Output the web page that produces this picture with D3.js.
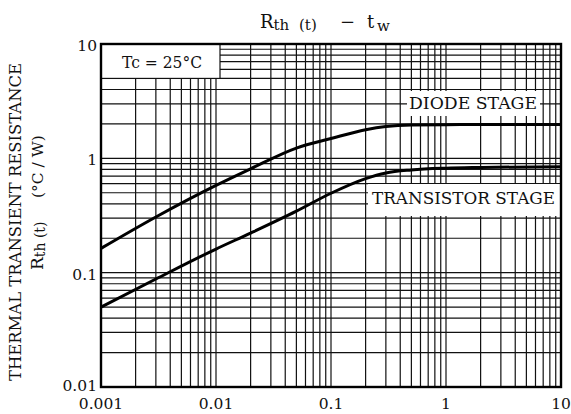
<!DOCTYPE html>
<html>
<head>
<meta charset="utf-8">
<script src="https://cdn.jsdelivr.net/npm/d3@7"></script>
<style>
  html, body { margin: 0; padding: 0; background: #fff; }
  svg { display: block; }
  text { font-family: "DejaVu Serif", "Liberation Serif", serif; fill: #111; }
</style>
</head>
<body>
<svg id="chart" width="571" height="414"></svg>
<script>
// ---- data ----
const xTickValues = [0.001, 0.01, 0.1, 1, 10];
const xTickLabels = ["0.001", "0.01", "0.1", "1", "10"];
const yTickValues = [0.01, 0.1, 1, 10];
const yTickLabels = ["0.01", "0.1", "1", "10"];

const tw = [0.001, 0.003, 0.01, 0.02, 0.05, 0.1, 0.2, 0.3, 0.5, 1, 2, 10];
const diodeStage =      [0.163, 0.307, 0.58, 0.81, 1.23, 1.49, 1.78, 1.90, 1.96, 1.97, 1.98, 1.98];
const transistorStage = [0.050, 0.088, 0.161, 0.222, 0.345, 0.495, 0.665, 0.745, 0.792, 0.821, 0.833, 0.846];

const seriesLabels = ["DIODE STAGE", "TRANSISTOR STAGE"];
const conditionLabel = "Tc = 25°C";

// ---- layout ----
const L = 101, R = 561, T = 44, B = 387;
const svg = d3.select("#chart");
const x = d3.scaleLog().domain([0.001, 10]).range([L, R]);
const y = d3.scaleLog().domain([0.01, 10]).range([B, T]);

// grid
const g = svg.append("g");
g.selectAll("line.vx").data(x.ticks()).join("line")
  .attr("x1", d => x(d)).attr("x2", d => x(d))
  .attr("y1", T).attr("y2", B)
  .attr("stroke", "#111").attr("stroke-width", 1.2);
g.selectAll("line.hy").data(y.ticks()).join("line")
  .attr("y1", d => y(d)).attr("y2", d => y(d))
  .attr("x1", L).attr("x2", R)
  .attr("stroke", "#111").attr("stroke-width", 1.2);

// label boxes (white backgrounds covering grid)
svg.append("rect").attr("x", L).attr("y", T).attr("width", 119).attr("height", y(5) - T)
  .attr("fill", "#fff").attr("stroke", "#111").attr("stroke-width", 1.2);
svg.append("rect").attr("x", 407).attr("y", 91).attr("width", 133).attr("height", 25).attr("fill", "#fff");
svg.append("rect").attr("x", 368).attr("y", 184).attr("width", R - 368).attr("height", 32).attr("fill", "#fff");

// curves
const line = d3.line().x(d => x(d[0])).y(d => y(d[1])).curve(d3.curveMonotoneX);
[diodeStage, transistorStage].forEach(s => {
  svg.append("path").datum(tw.map((t, i) => [t, s[i]]))
    .attr("d", line).attr("fill", "none").attr("stroke", "#000").attr("stroke-width", 3)
    .attr("stroke-linejoin", "round");
});

// border
svg.append("rect").attr("x", L).attr("y", T).attr("width", R - L).attr("height", B - T)
  .attr("fill", "none").attr("stroke", "#000").attr("stroke-width", 2.4);

// tick labels
svg.selectAll("text.xl").data(xTickValues).join("text")
  .attr("x", d => x(d)).attr("y", 409)
  .attr("text-anchor", "middle").attr("font-size", 15.5)
  .text((d, i) => xTickLabels[i]);
svg.selectAll("text.yl").data(yTickValues).join("text")
  .attr("x", 97).attr("y", (d, i) => y(d) + (i === 0 ? 4 : 7))
  .attr("text-anchor", "end").attr("font-size", 15.5)
  .text((d, i) => yTickLabels[i]);

// in-plot labels
svg.append("text").attr("x", 122).attr("y", 67.5).attr("font-size", 16.5)
  .attr("textLength", 80).attr("lengthAdjust", "spacingAndGlyphs").text(conditionLabel);
svg.append("text").attr("x", 409).attr("y", 108.5).attr("font-size", 17)
  .attr("textLength", 128).attr("lengthAdjust", "spacingAndGlyphs").text(seriesLabels[0]);
svg.append("text").attr("x", 372).attr("y", 203.5).attr("font-size", 17)
  .attr("textLength", 183).attr("lengthAdjust", "spacingAndGlyphs").text(seriesLabels[1]);

// title
const title = svg.append("text").attr("y", 28).attr("font-size", 18);
title.append("tspan").attr("x", 260).text("R");
title.append("tspan").attr("dy", 2).attr("font-size", 15).text("th");
title.append("tspan").attr("x", 299).attr("font-size", 15).text("(t)");
title.append("tspan").attr("x", 340).attr("dy", -2).text("−");
title.append("tspan").attr("x", 367).text("t");
title.append("tspan").attr("x", 377).attr("dy", 3).attr("font-size", 15).text("w");

// y-axis title
svg.append("text").attr("transform", "translate(21,222) rotate(-90)")
  .attr("text-anchor", "middle").attr("font-size", 17)
  .attr("textLength", 318).attr("lengthAdjust", "spacingAndGlyphs")
  .text("THERMAL TRANSIENT RESISTANCE");
const yb = svg.append("text").attr("transform", "translate(43,270) rotate(-90)")
  .attr("font-size", 17);
yb.append("tspan").text("R");
yb.append("tspan").attr("font-size", 14).attr("dy", 2).text("th (t)");
yb.append("tspan").attr("x", 72).attr("dy", -2).attr("font-size", 15.5).text("(°C / W)");
</script>
</body>
</html>
